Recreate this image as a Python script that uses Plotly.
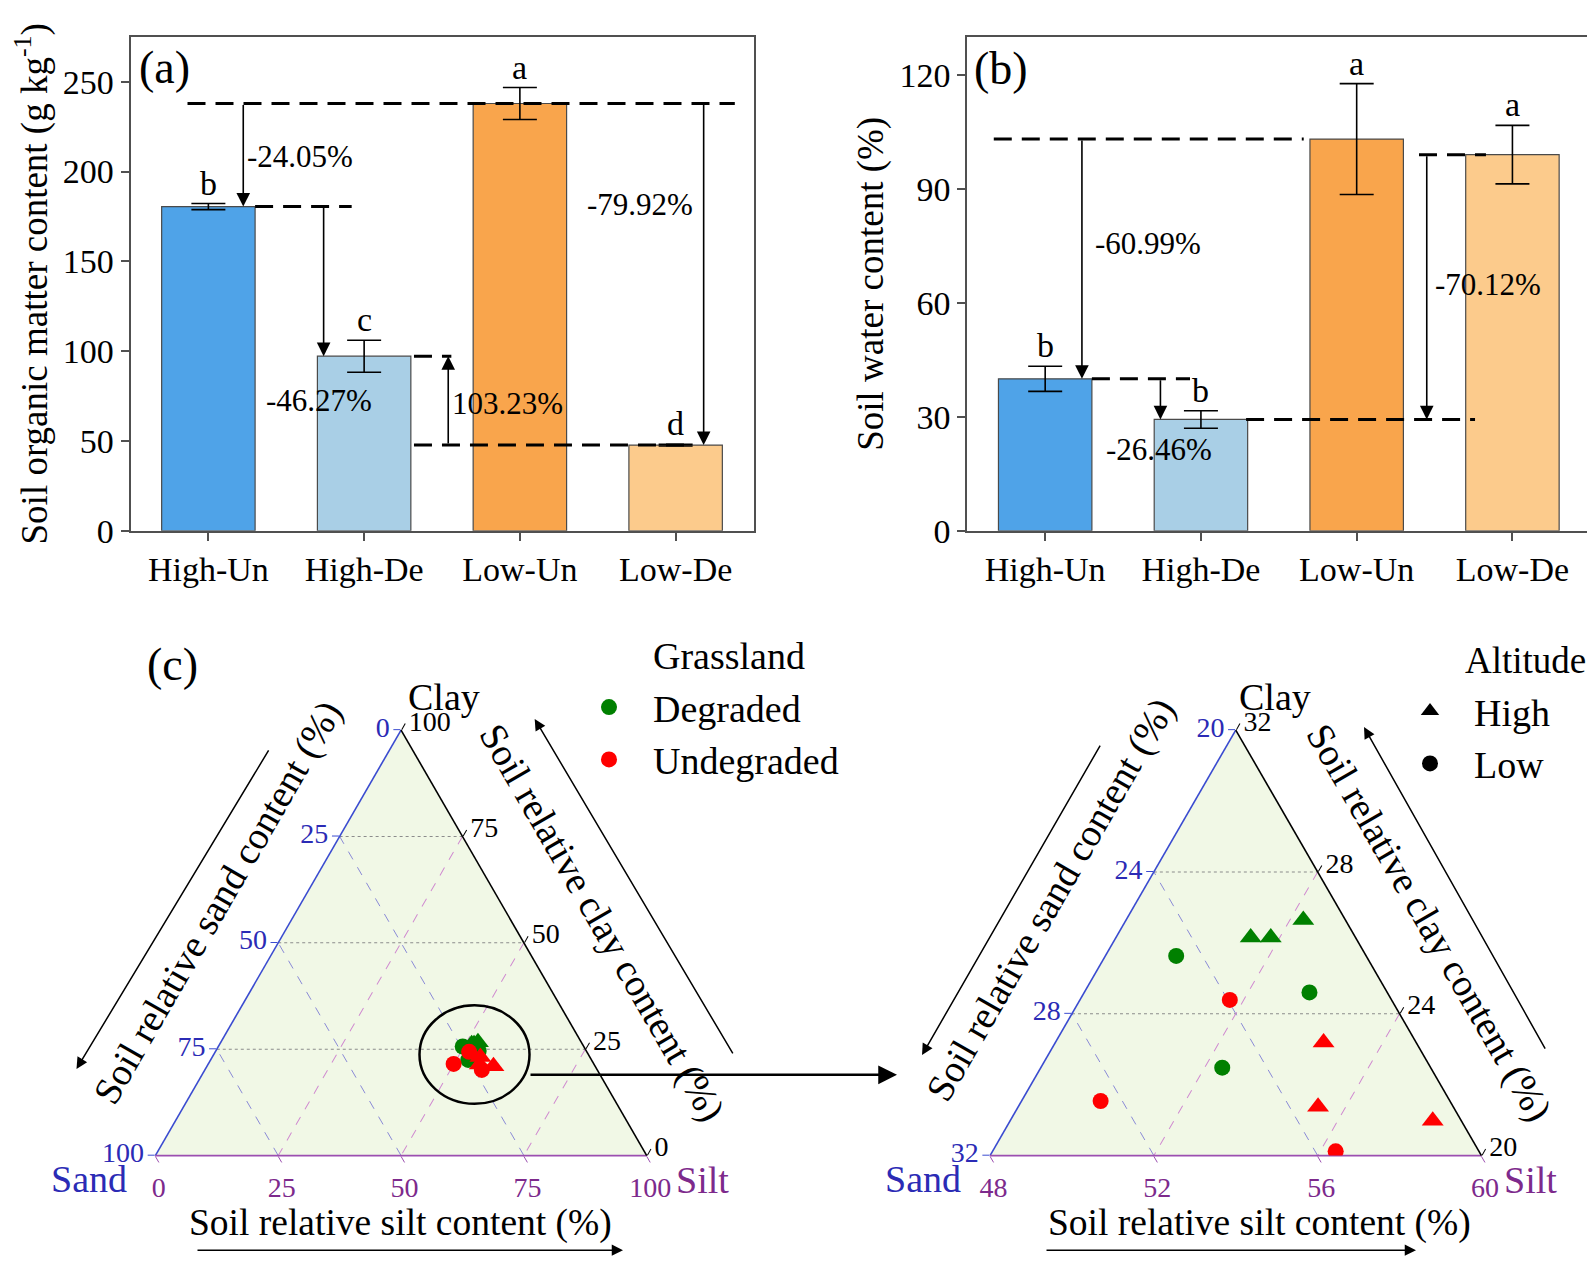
import plotly.graph_objects as go

W, H = 1595, 1271
FONT = "Liberation Serif"
BLUE = "#2B2BB5"
PURPLE = "#7D2A8C"
BLUE_LINE = "#3A4BD0"
PURPLE_LINE = "#9B4FB0"
FRAME = "#505050"

# ---------------- data ----------------
groups = ["High-Un", "High-De", "Low-Un", "Low-De"]
som = [180.5, 97.2, 237.9, 47.7]
som_err = [1.7, 8.9, 8.9, 0.5]
som_letters = ["b", "c", "a", "d"]
swc = [40.0, 29.3, 103.1, 99.0]
swc_err = [3.3, 2.3, 14.6, 7.7]
swc_letters = ["b", "b", "a", "a"]
bar_colors = ["#4FA3E8", "#A9CFE6", "#F9A54C", "#FCCB8C"]
som_ticks = [0, 50, 100, 150, 200, 250]
swc_ticks = [0, 30, 60, 90, 120]
som_change_labels = ["-24.05%", "-46.27%", "103.23%", "-79.92%"]
swc_change_labels = ["-60.99%", "-26.46%", "-70.12%"]

# soil samples (clay, sand, silt, %)
deg_high_clay = [26.15, 26.15, 26.64]
deg_high_sand = [22.56, 22.07, 21.03]
deg_high_silt = [51.29, 51.78, 52.33]
deg_low_clay = [25.63, 24.60, 22.48]
deg_low_sand = [24.64, 21.90, 25.09]
deg_low_silt = [49.73, 53.50, 52.43]
und_high_clay = [23.19, 21.38, 20.98]
und_high_sand = [22.26, 23.30, 20.70]
und_high_silt = [54.55, 55.32, 58.32]
und_low_clay = [24.39, 21.54, 20.12]
und_low_sand = [23.95, 28.53, 23.50]
und_low_silt = [51.66, 49.93, 56.38]

# ternary ticks (full triangle)
full_vals = [0, 25, 50, 75, 100]
full_sand_labels = ["100", "75", "50", "25", "0"]   # left edge
full_silt_labels = ["100", "75", "50", "25", "0"]   # bottom edge
full_clay_labels = ["100", "75", "50", "25", "0"]   # right edge
# ternary ticks (zoomed triangle)
zoom_clay_vals = [20, 24, 28, 32]
zoom_sand_labels = ["32", "28", "24", "20"]
zoom_sand_vals = [20, 24, 28, 32]
zoom_silt_labels = ["60", "56", "52", "48"]
zoom_silt_vals = [48, 52, 56, 60]
zoom_clay_labels = ["32", "28", "24", "20"]


def px(x):
    return x / W


def py(y):
    return 1 - y / H


fig = go.Figure()

# ---------------- bars ----------------
fig.add_trace(go.Bar(x=groups, y=som, width=0.6,
                     marker=dict(color=bar_colors, line=dict(color="#4a4a4a", width=1.2)),
                     error_y=dict(type="data", array=som_err, visible=True, color="black",
                                  thickness=1.6, width=17),
                     showlegend=False, xaxis="x", yaxis="y"))
fig.add_trace(go.Bar(x=groups, y=swc, width=0.6,
                     marker=dict(color=bar_colors, line=dict(color="#4a4a4a", width=1.2)),
                     error_y=dict(type="data", array=swc_err, visible=True, color="black",
                                  thickness=1.6, width=17),
                     showlegend=False, xaxis="x2", yaxis="y2"))

# ---------------- ternary points ----------------
sets = [
    (deg_high_clay, deg_high_sand, deg_high_silt, "green", "triangle-up", 19),
    (deg_low_clay, deg_low_sand, deg_low_silt, "green", "circle", 16),
    (und_high_clay, und_high_sand, und_high_silt, "red", "triangle-up", 19),
    (und_low_clay, und_low_sand, und_low_silt, "red", "circle", 16),
]
for sub in ["ternary", "ternary2"]:
    for cl, sa, si, col, sym, sz in sets:
        fig.add_trace(go.Scatterternary(a=cl, b=sa, c=si, subplot=sub, mode="markers",
                                        marker=dict(color=col, symbol=sym, size=sz),
                                        showlegend=False, hoverinfo="skip"))

# legend entries
fig.add_trace(go.Scatterternary(a=[None], b=[None], c=[None], subplot="ternary", mode="markers",
                                marker=dict(color="green", symbol="circle", size=16),
                                name="Degraded", legend="legend"))
fig.add_trace(go.Scatterternary(a=[None], b=[None], c=[None], subplot="ternary", mode="markers",
                                marker=dict(color="red", symbol="circle", size=16),
                                name="Undegraded", legend="legend"))
fig.add_trace(go.Scatterternary(a=[None], b=[None], c=[None], subplot="ternary2", mode="markers",
                                marker=dict(color="black", symbol="triangle-up", size=16),
                                name="High", legend="legend2"))
fig.add_trace(go.Scatterternary(a=[None], b=[None], c=[None], subplot="ternary2", mode="markers",
                                marker=dict(color="black", symbol="circle", size=16),
                                name="Low", legend="legend2"))

# ---------------- axes ----------------
common_x = dict(type="category", range=[-0.5, 3.5], showline=True, mirror=True,
                linecolor=FRAME, linewidth=1.8, ticks="outside", ticklen=8, tickwidth=1.5,
                tickcolor=FRAME, tickfont=dict(family=FONT, size=34, color="black"),
                showgrid=False, zeroline=False)
common_y = dict(showline=True, mirror=True, linecolor=FRAME, linewidth=1.8, ticks="outside",
                ticklen=8, tickwidth=1.5, tickcolor=FRAME,
                tickfont=dict(family=FONT, size=34, color="black"),
                showgrid=False, zeroline=False)

fig.update_layout(
    xaxis=dict(common_x, domain=[px(122.5), px(745.5)], anchor="y"),
    yaxis=dict(common_y, domain=[py(530.7), py(29.3)], anchor="x", range=[0, 275],
               tickmode="array", tickvals=som_ticks,
               title=dict(text="Soil organic matter content (g kg<sup>-1</sup>)",
                          font=dict(family=FONT, size=37), standoff=8)),
    xaxis2=dict(common_x, domain=[px(959.3), px(1582.3)], anchor="y2"),
    yaxis2=dict(common_y, domain=[py(530.7), py(29.3)], anchor="x2", range=[0, 130],
                tickmode="array", tickvals=swc_ticks,
                title=dict(text="Soil water content (%)",
                           font=dict(family=FONT, size=37), standoff=5)),
)


def tern_axis(vals, labels, color, linecolor, gridcolor, griddash, mn):
    return dict(title=dict(text=""), min=mn, tickmode="array", tickvals=vals, ticktext=labels,
                tickfont=dict(family=FONT, size=28, color=color), linecolor=linecolor,
                linewidth=1.6, ticks="outside", ticklen=7, tickcolor=linecolor, tickwidth=1.3,
                showgrid=True, gridcolor=gridcolor, gridwidth=1, griddash=griddash,
                layer="below traces")


TY = [py(1165), py(733)]
fig.update_layout(
    ternary=dict(
        domain=dict(x=[px(142.9), px(643.2)], y=TY), sum=100, bgcolor="#F1F8E6",
        aaxis=tern_axis(full_vals, full_sand_labels, BLUE, BLUE_LINE, "#8c8c8c", "dot", 0),
        baxis=tern_axis(full_vals, full_silt_labels, PURPLE, PURPLE_LINE, "#8a8ad6", "dash", 0),
        caxis=tern_axis(full_vals, full_clay_labels, "black", "black", "#d08ad0", "dash", 0),
    ),
    ternary2=dict(
        domain=dict(x=[px(978.2), px(1477.3)], y=TY), sum=100, bgcolor="#F1F8E6",
        aaxis=tern_axis(zoom_clay_vals, zoom_sand_labels, BLUE, BLUE_LINE, "#8c8c8c", "dot", 20),
        baxis=tern_axis(zoom_sand_vals, zoom_silt_labels, PURPLE, PURPLE_LINE, "#8a8ad6", "dash", 20),
        caxis=tern_axis(zoom_silt_vals, zoom_clay_labels, "black", "black", "#d08ad0", "dash", 48),
    ),
)

# ---------------- annotations / shapes for bar panels ----------------
DASH = dict(color="black", width=3, dash="18px,10px")
shapes = []
annotations = []


def hline(xr, yr, x0, x1, y):
    shapes.append(dict(type="line", xref=xr, yref=yr, x0=x0, x1=x1, y0=y, y1=y, line=DASH))


def varrow(xr, yr, x, y_from, y_to):
    annotations.append(dict(x=x, y=y_to, ax=x, ay=y_from, xref=xr, yref=yr, axref=xr, ayref=yr,
                            text="", showarrow=True, arrowhead=2, arrowsize=1.7, arrowwidth=1.6,
                            arrowcolor="black", standoff=0, startstandoff=0))


def label(xr, yr, x, y, text, size=31, **kw):
    annotations.append(dict(x=x, y=y, xref=xr, yref=yr, text=text, showarrow=False,
                            font=dict(family=FONT, size=size, color="black"), **kw))


# panel (a)
hline("x", "y", -0.134, 3.38, som[2])
hline("x", "y", 0.30, 0.92, som[0])
hline("x", "y", 1.32, 1.56, som[1])
hline("x", "y", 1.32, 3.10, som[3])
varrow("x", "y", 0.224, som[2], som[0])
varrow("x", "y", 0.74, som[0], som[1])
varrow("x", "y", 1.54, som[3], som[1])
varrow("x", "y", 3.18, som[2], som[3])
label("x", "y", 0.59, 208.6, som_change_labels[0])
label("x", "y", 0.71, 72.8, som_change_labels[1])
label("x", "y", 1.92, 71.0, som_change_labels[2])
label("x", "y", 2.77, 181.6, som_change_labels[3])
for g, v, e, t in zip(groups, som, som_err, som_letters):
    label("x", "y", g, v + e, t, size=34, yanchor="bottom")

# panel (b)
hline("x2", "y2", -0.33, 1.66, swc[2])
hline("x2", "y2", 0.30, 0.93, swc[0])
hline("x2", "y2", 1.29, 2.76, swc[1])
hline("x2", "y2", 2.40, 2.83, swc[3])
varrow("x2", "y2", 0.236, swc[2], swc[0])
varrow("x2", "y2", 0.74, swc[0], swc[1])
varrow("x2", "y2", 2.45, swc[3], swc[1])
label("x2", "y2", 0.66, 75.5, swc_change_labels[0])
label("x2", "y2", 0.73, 21.3, swc_change_labels[1])
label("x2", "y2", 2.84, 64.9, swc_change_labels[2])
for g, v, e, t in zip(groups, swc, swc_err, swc_letters):
    label("x2", "y2", g, v + e, t, size=34, yanchor="bottom")


def ptext(x, y, text, size, color="black", angle=0, xanchor="center"):
    annotations.append(dict(x=px(x), y=py(y), xref="paper", yref="paper", text=text,
                            showarrow=False, textangle=angle, xanchor=xanchor, yanchor="middle",
                            font=dict(family=FONT, size=size, color=color)))


def parrow(hx, hy, dx, dy, width=1.5):
    annotations.append(dict(x=px(hx), y=py(hy), xref="paper", yref="paper", ax=dx, ay=dy,
                            text="", showarrow=True, arrowhead=2, arrowsize=1.5,
                            arrowwidth=width, arrowcolor="black"))


# panel labels
ptext(156, 60, "(a)", 46)
ptext(993, 61, "(b)", 46)
ptext(164, 666, "(c)", 46)

# ternary vertex labels
ptext(435.5, 699, "Clay", 38)
ptext(1267, 699, "Clay", 38)
ptext(80.5, 1189, "Sand", 38, BLUE)
ptext(694, 1190, "Silt", 38, PURPLE)
ptext(914.5, 1189, "Sand", 38, BLUE)
ptext(1522, 1190, "Silt", 38, PURPLE)

# ternary edge titles and arrows
ET = 38.5
BT = 37.5
ptext(210, 908, "Soil relative sand content (%)", ET, angle=-60)
ptext(594, 928, "Soil relative clay content (%)", ET, angle=60)
ptext(392, 1233, "Soil relative silt content (%)", BT)
parrow(68.5, 1077, 193, -320)
parrow(526.7, 721.7, 199, 336)
parrow(615, 1261, -427, 0)

ptext(1043, 905, "Soil relative sand content (%)", ET, angle=-60)
ptext(1421, 928, "Soil relative clay content (%)", ET, angle=60)
ptext(1251, 1233, "Soil relative silt content (%)", BT)
parrow(914, 1063, 179, -311)
parrow(1356, 730, 182, 323)
parrow(1408, 1261, -371, 0)

# zoom circle and connector
shapes.append(dict(type="circle", xref="paper", yref="paper", x0=px(411.5), x1=px(521.5),
                   y0=py(1112.5), y1=py(1012.5), line=dict(color="black", width=2.5)))
parrow(889, 1083, -368, 0, width=2.5)

# legend titles
ptext(721, 658, "Grassland", 38)
ptext(1455, 662, "Altitude", 37, xanchor="left")

fig.update_layout(shapes=shapes, annotations=annotations)

fig.update_layout(
    width=W, height=H, autosize=False,
    margin=dict(l=0, r=0, t=0, b=0),
    paper_bgcolor="white", plot_bgcolor="white",
    font=dict(family=FONT, size=30, color="black"),
    bargap=0.4,
    legend=dict(x=px(557), y=py(678), xanchor="left", yanchor="top",
                font=dict(family=FONT, size=38), itemwidth=78,
                bgcolor="rgba(0,0,0,0)", borderwidth=0),
    legend2=dict(x=px(1378), y=py(682), xanchor="left", yanchor="top",
                 font=dict(family=FONT, size=38), itemwidth=78,
                 bgcolor="rgba(0,0,0,0)", borderwidth=0),
)

fig.write_html("out.html")
